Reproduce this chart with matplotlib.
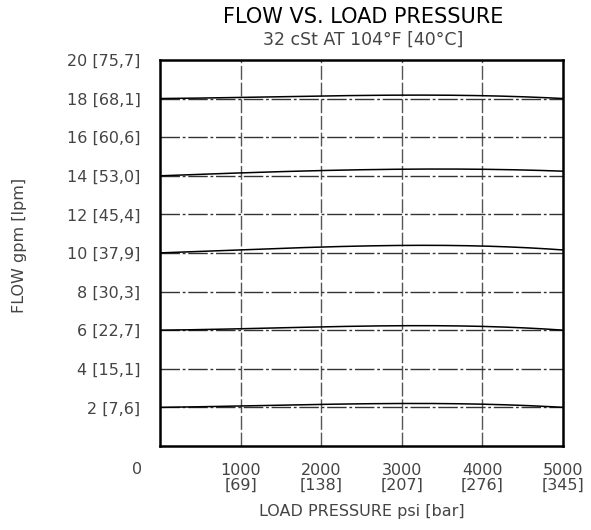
import matplotlib
matplotlib.use("Agg")
import matplotlib.pyplot as plt
import numpy as np

plt.rcParams['font.family'] = ['DejaVu Sans']

# Data
pressure_psi = [0, 1000, 2000, 3000, 3500, 4000, 5000]
flow_18 = [18.0, 18.07, 18.13, 18.17, 18.18, 18.16, 18.0]
flow_14 = [14.0, 14.15, 14.27, 14.34, 14.36, 14.33, 14.24]
flow_10 = [10.0, 10.18, 10.30, 10.37, 10.40, 10.38, 10.15]
flow_6 = [6.0, 6.08, 6.17, 6.22, 6.24, 6.20, 6.0]
flow_2 = [2.0, 2.08, 2.15, 2.20, 2.20, 2.17, 2.0]
series = [flow_18, flow_14, flow_10, flow_6, flow_2]

x_ticks = [1000, 2000, 3000, 4000, 5000]
x_labels = ["1000\n[69]", "2000\n[138]", "3000\n[207]", "4000\n[276]", "5000\n[345]"]
y_ticks = [2, 4, 6, 8, 10, 12, 14, 16, 18, 20]
y_labels = ["2 [7,6]", "4 [15,1]", "6 [22,7]", "8 [30,3]", "10 [37,9]",
            "12 [45,4]", "14 [53,0]", "16 [60,6]", "18 [68,1]", "20 [75,7]"]

fig = plt.figure(figsize=(5.91, 5.30), dpi=100)
ax = fig.add_axes([160/591, 1-446/530, (563-160)/591, (446-60)/530])
ax.set_xlim(0, 5000)
ax.set_ylim(0, 20)

gc = '#555555'
for xv in x_ticks[:-1]:
    ax.axvline(xv, color=gc, lw=1.0, dashes=(10, 2), zorder=1)
for yv in y_ticks[:-1]:
    ax.axhline(yv, color='#333333', lw=1.0, dashes=(14, 2, 2, 2), zorder=1)

for s in series:
    xs = np.linspace(0, 5000, 200)
    coeffs = np.polyfit(pressure_psi, s, 3)
    ax.plot(xs, np.polyval(coeffs, xs), color='black', lw=1.1, zorder=3)

for sp in ax.spines.values():
    sp.set_linewidth(1.8)
    sp.set_color('black')

tc = '#444444'
ax.set_xticks(x_ticks)
ax.set_xticklabels(x_labels, fontsize=11.5, color=tc, linespacing=1.0)
ax.set_yticks(y_ticks)
ax.set_yticklabels(y_labels, fontsize=11.5, color=tc)
ax.tick_params(length=0, pad=14, axis='y')
ax.tick_params(length=0, pad=12, axis='x')
ax.text(-220, -1.2, "0", ha='right', va='center', fontsize=11.5, color=tc)

ax.set_xlabel("LOAD PRESSURE psi [bar]", fontsize=11.5, color=tc, labelpad=8)
fig.text(20/591, 1-245/530, "FLOW gpm [lpm]", rotation=90, ha='center', va='center',
         fontsize=11.5, color=tc)

fig.text(363/591, 1-17/530, "FLOW VS. LOAD PRESSURE", ha='center', va='center',
         fontsize=15, color='black')
fig.text(363/591, 1-40/530, "32 cSt AT 104°F [40°C]", ha='center', va='center',
         fontsize=12.5, color=tc)

fig.savefig("out.png", dpi=100)
